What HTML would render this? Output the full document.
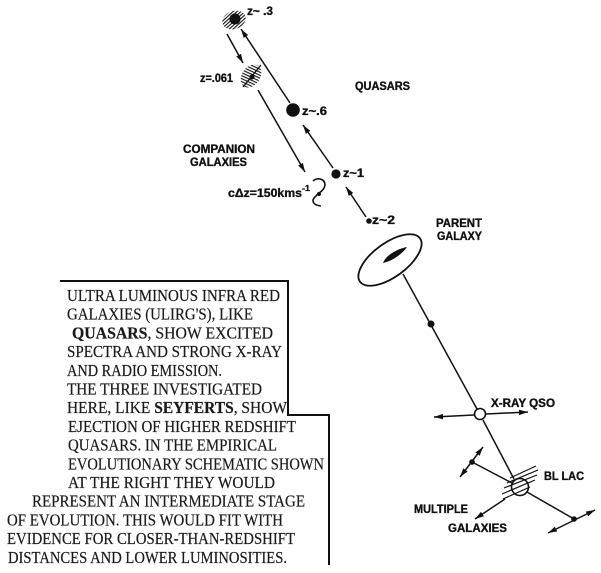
<!DOCTYPE html>
<html><head><meta charset="utf-8"><style>
html,body{margin:0;padding:0;background:#fff;}
svg{display:block;}
.s{font-family:"Liberation Sans",sans-serif;font-weight:bold;font-size:11.5px;fill:#111;stroke:#111;stroke-width:0.35;}
.t{font-family:"Liberation Serif",serif;font-size:16.5px;fill:#1a1a1a;stroke:#1a1a1a;stroke-width:0.2;}
.b{font-weight:bold;}
</style></head><body>
<svg width="601" height="573" viewBox="0 0 601 573" xmlns="http://www.w3.org/2000/svg">
<defs>
<marker id="ah" viewBox="0 0 10 6" refX="10" refY="3" markerWidth="9" markerHeight="5.5" markerUnits="userSpaceOnUse" orient="auto-start-reverse">
<path d="M0,0 L10,3 L0,6 z" fill="#111"/>
</marker>
<pattern id="h1" patternUnits="userSpaceOnUse" width="10" height="2.6" patternTransform="rotate(-22)">
<rect x="0" y="0" width="10" height="1.1" fill="#111"/>
</pattern>
<pattern id="h2" patternUnits="userSpaceOnUse" width="10" height="2.7" patternTransform="rotate(-10)">
<rect x="0" y="0" width="10" height="1.1" fill="#111"/>
</pattern>
</defs>

<!-- text box border -->
<path d="M60,281 H288 V415 H329 V565" fill="none" stroke="#111" stroke-width="2"/>

<!-- box text -->
<text class="t" x="67" y="301" textLength="213" lengthAdjust="spacingAndGlyphs">ULTRA LUMINOUS INFRA RED</text>
<text class="t" x="67" y="319.7" textLength="186" lengthAdjust="spacingAndGlyphs">GALAXIES (ULIRG'S), LIKE</text>
<text class="t" x="72" y="338.4" textLength="201" lengthAdjust="spacingAndGlyphs"><tspan class="b">QUASARS</tspan>, SHOW EXCITED</text>
<text class="t" x="67" y="357.1" textLength="215" lengthAdjust="spacingAndGlyphs">SPECTRA AND STRONG X-RAY</text>
<text class="t" x="67" y="375.8" textLength="155" lengthAdjust="spacingAndGlyphs">AND RADIO EMISSION.</text>
<text class="t" x="67" y="394.5" textLength="195" lengthAdjust="spacingAndGlyphs">THE THREE INVESTIGATED</text>
<text class="t" x="67" y="413.2" textLength="220" lengthAdjust="spacingAndGlyphs">HERE, LIKE <tspan class="b">SEYFERTS</tspan>, SHOW</text>
<text class="t" x="68" y="431.9" textLength="228" lengthAdjust="spacingAndGlyphs">EJECTION OF HIGHER REDSHIFT</text>
<text class="t" x="68" y="450.6" textLength="209" lengthAdjust="spacingAndGlyphs">QUASARS. IN THE EMPIRICAL</text>
<text class="t" x="68" y="469.3" textLength="256" lengthAdjust="spacingAndGlyphs">EVOLUTIONARY SCHEMATIC SHOWN</text>
<text class="t" x="68" y="488" textLength="207" lengthAdjust="spacingAndGlyphs">AT THE RIGHT THEY WOULD</text>
<text class="t" x="32" y="506.7" textLength="273" lengthAdjust="spacingAndGlyphs">REPRESENT AN INTERMEDIATE STAGE</text>
<text class="t" x="7" y="525.4" textLength="276" lengthAdjust="spacingAndGlyphs">OF EVOLUTION. THIS WOULD FIT WITH</text>
<text class="t" x="7" y="544.1" textLength="288" lengthAdjust="spacingAndGlyphs">EVIDENCE FOR CLOSER-THAN-REDSHIFT</text>
<text class="t" x="8" y="562.8" textLength="279" lengthAdjust="spacingAndGlyphs">DISTANCES AND LOWER LUMINOSITIES.</text>

<!-- top blobs -->
<ellipse cx="234" cy="20" rx="12" ry="9" fill="url(#h1)" transform="rotate(-20 234 20)"/>
<circle cx="235" cy="19" r="5.5" fill="#111"/>
<ellipse cx="251" cy="76" rx="9" ry="12.5" fill="url(#h2)" transform="rotate(35 251 76)"/>
<line x1="261" y1="65" x2="243" y2="87" stroke="#111" stroke-width="1.3"/>
<circle cx="252" cy="77" r="2.5" fill="#111"/>

<!-- quasars chain -->
<circle cx="293" cy="110" r="6.8" fill="#111"/>
<circle cx="336" cy="174" r="4.6" fill="#111"/>
<circle cx="369" cy="221" r="2.8" fill="#111"/>

<g stroke="#111" stroke-width="1.5" fill="none">
<line x1="227" y1="34" x2="243" y2="63" marker-end="url(#ah)"/>
<line x1="258" y1="90" x2="305" y2="172" marker-end="url(#ah)"/>
<line x1="290" y1="103" x2="241" y2="29" marker-end="url(#ah)"/>
<line x1="333" y1="168" x2="303" y2="125" marker-end="url(#ah)"/>
<line x1="366" y1="217" x2="346" y2="187" marker-end="url(#ah)"/>
</g>

<!-- companion squiggle -->
<path d="M313,181 C318,176 328,180 324,188 C322,192 318,193 316,196 C311,200 312,205 321,206" fill="none" stroke="#111" stroke-width="1.6"/>
<circle cx="319" cy="194" r="2" fill="#111"/>

<!-- parent galaxy -->
<ellipse cx="390" cy="260" rx="37" ry="17" fill="none" stroke="#111" stroke-width="1.8" transform="rotate(-36 390 260)"/>
<path d="M383,263 C386,255 397,249 407,247 C403,253 393,261 383,263Z" fill="#111"/>

<g stroke="#111" stroke-width="1.5" fill="none">
<line x1="403" y1="274" x2="477" y2="409"/>
<line x1="483" y1="420" x2="514" y2="479"/>
<line x1="472" y1="462" x2="512" y2="483"/>
<line x1="527" y1="492" x2="574" y2="519"/>
<line x1="474" y1="415" x2="434" y2="417" marker-end="url(#ah)"/>
<line x1="486" y1="414" x2="528" y2="412" marker-end="url(#ah)"/>
<line x1="483" y1="447" x2="460" y2="477" marker-start="url(#ah)" marker-end="url(#ah)"/>
<line x1="595" y1="510" x2="548" y2="533" marker-start="url(#ah)" marker-end="url(#ah)"/>
<line x1="505" y1="499" x2="475" y2="519" marker-end="url(#ah)"/>
</g>
<circle cx="431" cy="324" r="3.5" fill="#111"/>
<circle cx="480" cy="414" r="5.5" fill="#fff" stroke="#111" stroke-width="1.6"/>
<circle cx="472" cy="462" r="2.8" fill="#111"/>
<circle cx="574" cy="519" r="2.8" fill="#111"/>

<!-- BL LAC -->
<circle cx="520" cy="487" r="8.5" fill="#fff" stroke="#111" stroke-width="1.6"/>
<g stroke="#111" stroke-width="1.2">
<line x1="510" y1="478" x2="536" y2="466"/>
<line x1="507" y1="483" x2="538" y2="470"/>
<line x1="504" y1="488" x2="537" y2="475"/>
<line x1="502" y1="494" x2="535" y2="480"/>
<line x1="503" y1="499" x2="530" y2="487"/>
</g>

<!-- labels -->
<text class="s" x="247" y="15" textLength="26" lengthAdjust="spacingAndGlyphs">z~ .3</text>
<text class="s" x="200" y="82" textLength="33" lengthAdjust="spacingAndGlyphs">z=.061</text>
<text class="s" x="355" y="90" textLength="55" lengthAdjust="spacingAndGlyphs">QUASARS</text>
<text class="s" x="302" y="115" textLength="25" lengthAdjust="spacingAndGlyphs">z~.6</text>
<text class="s" x="183" y="153" textLength="72" lengthAdjust="spacingAndGlyphs">COMPANION</text>
<text class="s" x="190" y="166" textLength="57" lengthAdjust="spacingAndGlyphs">GALAXIES</text>
<text class="s" x="343" y="177" textLength="21" lengthAdjust="spacingAndGlyphs">z~1</text>
<text class="s" x="228" y="197" textLength="74" lengthAdjust="spacingAndGlyphs">cΔz=150kms</text>
<text class="s" x="302" y="191" style="font-size:8px" textLength="8" lengthAdjust="spacingAndGlyphs">-1</text>
<text class="s" x="372" y="224" textLength="23" lengthAdjust="spacingAndGlyphs">z~2</text>
<text class="s" x="436" y="227" textLength="46" lengthAdjust="spacingAndGlyphs">PARENT</text>
<text class="s" x="437" y="240" textLength="45" lengthAdjust="spacingAndGlyphs">GALAXY</text>
<text class="s" x="491" y="407" textLength="64" lengthAdjust="spacingAndGlyphs">X-RAY QSO</text>
<text class="s" x="544" y="480" textLength="40" lengthAdjust="spacingAndGlyphs">BL LAC</text>
<text class="s" x="414" y="513" textLength="54" lengthAdjust="spacingAndGlyphs">MULTIPLE</text>
<text class="s" x="448" y="532" textLength="59" lengthAdjust="spacingAndGlyphs">GALAXIES</text>
</svg>
</body></html>
